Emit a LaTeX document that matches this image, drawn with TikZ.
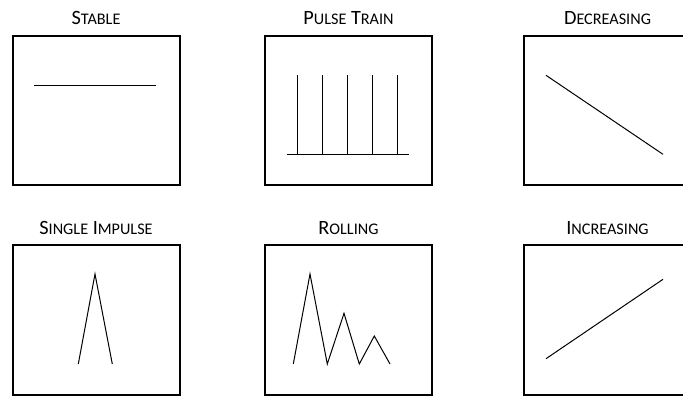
\documentclass[tikz,border=0pt]{standalone}
\usepackage{fontspec}
\setmainfont{Carlito}
\usetikzlibrary{positioning}
\newcommand\capt[2]{#1{\fontsize{16.2pt}{18pt}\selectfont #2}}
\tikzset{panel/.style={draw, line width=2pt, minimum width=167pt, minimum height=149.5pt, anchor=north west, inner sep=0pt},
         caption/.style={anchor=base, inner sep=0pt, font=\fontsize{20.3pt}{22pt}\selectfont},
         trace/.style={line width=1pt, line join=miter}}

\begin{document}
\begin{tikzpicture}[x=1pt,y=-1pt]
  \useasboundingbox (0,0) rectangle (683,397);
  % top row
  \node[panel] (stable) at (11.5,34.5) {};
  \node[panel] (pulse) at (264,34.5) {};
  \node[panel] (decr) at (523,34.5) {};
  \node[caption] (tstable) at ([yshift=10pt]stable.north) {\capt{S}{TABLE}};
  \node[caption] (tpulse) at ([yshift=10pt]pulse.north) {\capt{P}{ULSE} \capt{T}{RAIN}};
  \node[caption] (tdecr) at ([yshift=10pt]decr.north) {\capt{D}{ECREASING}};
  \begin{scope}[shift={(11.5,34.5)}]
   \draw[trace] (22.5,50.5) -- (144.5,50.5);
  \end{scope}
  \begin{scope}[shift={(264,34.5)}]
   \draw[trace] (22.7,120.2) -- (145,120.2);
   \foreach \x in {33.7,58.7,83.7,108.7,133.7}
    \draw[trace] (\x,120.2) -- (\x,40.8);
  \end{scope}
  \begin{scope}[shift={(523,34.5)}]
   \draw[trace] (23,40.8) -- (140,119.8);
  \end{scope}
  % bottom row
  \node[panel] (single) at (11.5,244) {};
  \node[panel] (roll) at (264,244) {};
  \node[panel] (incr) at (523,244) {};
  \node[caption] (tsingle) at ([yshift=10pt]single.north) {\capt{S}{INGLE} \capt{I}{MPULSE}};
  \node[caption] (troll) at ([yshift=10pt]roll.north) {\capt{R}{OLLING}};
  \node[caption] (tincr) at ([yshift=10pt]incr.north) {\capt{I}{NCREASING}};
  \begin{scope}[shift={(11.5,244)}]
   \draw[trace] (66.8,120) -- (83.5,30) -- (100.8,120);
  \end{scope}
  \begin{scope}[shift={(264,244)}]
   \draw[trace] (29.3,120) -- (46,30) -- (63.3,120) -- (80,69.3)
    -- (95.3,120) -- (110.3,92) -- (126,120);
  \end{scope}
  \begin{scope}[shift={(523,244)}]
   \draw[trace] (23,114.7) -- (140,35.3);
  \end{scope}
\end{tikzpicture}
\end{document}
